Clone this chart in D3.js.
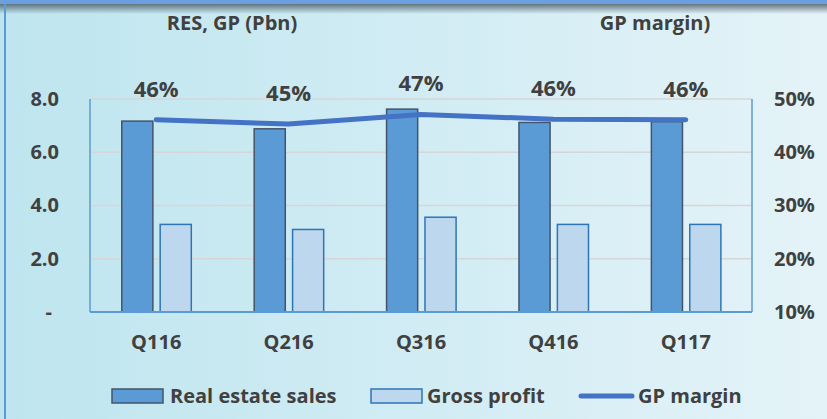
<!DOCTYPE html>
<html>
<head>
<meta charset="utf-8">
<script src="https://cdn.jsdelivr.net/npm/d3@7"></script>
<style>
  html, body { margin: 0; padding: 0; }
  body { width: 827px; height: 419px; overflow: hidden; }
  text { font-family: "Open Sans", sans-serif; font-weight: bold; fill: #404040; }
</style>
</head>
<body>
<div class="vis-chart"></div>
<script>
const quarters = ["Q116", "Q216", "Q316", "Q416", "Q117"];
const realEstateSales = [7.17, 6.88, 7.62, 7.12, 7.15];
const grossProfit = [3.29, 3.10, 3.56, 3.29, 3.29];
const gpMargin = [46.1, 45.3, 47.1, 46.2, 46.1];
const marginLabels = ["46%", "45%", "47%", "46%", "46%"];
const leftTicks = [0, 2, 4, 6, 8];
const rightTicks = [10, 20, 30, 40, 50];

const W = 827, H = 419;
const margin = { top: 99, right: 75, bottom: 107, left: 90 };
const FONT = "'Open Sans', sans-serif";

const svg = d3.select(".vis-chart")
    .append("svg")
    .attr("width", W)
    .attr("height", H);

// background
const defs = svg.append("defs");
const bg = defs.append("linearGradient").attr("id", "bg")
    .attr("x1", "0%").attr("y1", "0%").attr("x2", "100%").attr("y2", "0%");
bg.append("stop").attr("offset", "0%").attr("stop-color", "#bee5ef");
bg.append("stop").attr("offset", "100%").attr("stop-color", "#e4f3f8");
const sh = defs.append("linearGradient").attr("id", "shadow")
    .attr("x1", "0%").attr("y1", "0%").attr("x2", "0%").attr("y2", "100%");
sh.append("stop").attr("offset", "0%").attr("stop-color", "#4d5f6a").attr("stop-opacity", 0.85);
sh.append("stop").attr("offset", "100%").attr("stop-color", "#4d5f6a").attr("stop-opacity", 0);

svg.append("rect").attr("width", W).attr("height", H).attr("fill", "url(#bg)");
svg.append("rect").attr("x", 0).attr("y", 4).attr("width", W).attr("height", 10).attr("fill", "url(#shadow)");
svg.append("rect").attr("x", 0).attr("y", 0).attr("width", W).attr("height", 4).attr("fill", "#6b9fdf");
svg.append("rect").attr("x", 4).attr("y", 4).attr("width", 2).attr("height", H).attr("fill", "#5b9bd5");

const x0 = d3.scaleBand()
    .domain(quarters)
    .range([margin.left, W - margin.right])
    .paddingInner(0).paddingOuter(0);
const x1 = d3.scaleBand()
    .domain(["res", "gp"])
    .range([x0.bandwidth() * 0.24, x0.bandwidth() * 0.765])
    .paddingInner(0.19).paddingOuter(0);
const y = d3.scaleLinear().domain([0, 8]).range([H - margin.bottom, margin.top]);
const y2 = d3.scaleLinear().domain([10, 50]).range([H - margin.bottom, margin.top]);

// gridlines
svg.append("g")
    .selectAll("line")
    .data(leftTicks.slice(1))
    .join("line")
    .attr("x1", margin.left).attr("x2", W - margin.right)
    .attr("y1", d => y(d)).attr("y2", d => y(d))
    .attr("stroke", "#d6d6d6").attr("stroke-width", 1.5);

// left axis
svg.append("g")
    .attr("transform", "translate(" + (margin.left - 28) + ",0)")
    .call(d3.axisLeft(y).tickValues(leftTicks).tickSize(0)
        .tickFormat(d => d === 0 ? "-" : d3.format(".1f")(d)))
    .call(g => g.select(".domain").remove())
    .selectAll("text")
    .attr("font-size", 20).attr("fill", "#404040")
    .attr("font-family", FONT).attr("font-weight", "bold")
    .attr("dx", d => d === 0 ? -7 : 0);

// right axis
svg.append("g")
    .attr("transform", "translate(" + (W - margin.right + 19) + ",0)")
    .call(d3.axisRight(y2).tickValues(rightTicks).tickSize(0).tickFormat(d => d + "%"))
    .call(g => g.select(".domain").remove())
    .selectAll("text")
    .attr("font-size", 20).attr("fill", "#404040")
    .attr("font-family", FONT).attr("font-weight", "bold");

// bars
const groups = svg.append("g")
    .selectAll("g")
    .data(quarters)
    .join("g")
    .attr("transform", d => "translate(" + x0(d) + ",0)");

groups.append("rect")
    .attr("x", x1("res"))
    .attr("y", (d, i) => y(realEstateSales[i]))
    .attr("width", x1.bandwidth())
    .attr("height", (d, i) => y(0) - y(realEstateSales[i]))
    .attr("fill", "#5b9bd5")
    .attr("stroke", "#44546a").attr("stroke-width", 1.5);

groups.append("rect")
    .attr("x", x1("gp"))
    .attr("y", (d, i) => y(grossProfit[i]))
    .attr("width", x1.bandwidth())
    .attr("height", (d, i) => y(0) - y(grossProfit[i]))
    .attr("fill", "#bdd7ee")
    .attr("stroke", "#2e75b6").attr("stroke-width", 1.5);

// plot frame
svg.append("line")
    .attr("x1", margin.left).attr("x2", margin.left)
    .attr("y1", margin.top).attr("y2", y(0))
    .attr("stroke", "#5b9bd5").attr("stroke-width", 1.5);
svg.append("line")
    .attr("x1", W - margin.right).attr("x2", W - margin.right)
    .attr("y1", margin.top).attr("y2", y(0))
    .attr("stroke", "#5b9bd5").attr("stroke-width", 1.5);
svg.append("line")
    .attr("x1", margin.left).attr("x2", W - margin.right)
    .attr("y1", y(0)).attr("y2", y(0))
    .attr("stroke", "#5b9bd5").attr("stroke-width", 2);

// x axis labels
svg.append("g")
    .attr("transform", "translate(0," + (y(0) + 20) + ")")
    .call(d3.axisBottom(x0).tickSize(0))
    .call(g => g.select(".domain").remove())
    .selectAll("text")
    .attr("font-size", 20).attr("fill", "#404040")
    .attr("font-family", FONT).attr("font-weight", "bold");

// GP margin line
const cx = (d) => x0(d) + x0.bandwidth() / 2;
svg.append("path")
    .datum(quarters)
    .attr("fill", "none")
    .attr("stroke", "#4472c4")
    .attr("stroke-width", 5)
    .attr("stroke-linecap", "round")
    .attr("d", d3.line()
        .x(d => cx(d))
        .y((d, i) => y2(gpMargin[i])));

svg.append("g")
    .selectAll("text")
    .data(quarters)
    .join("text")
    .attr("x", d => cx(d))
    .attr("y", (d, i) => y2(gpMargin[i]) - 23)
    .attr("text-anchor", "middle")
    .attr("font-family", "'Liberation Sans Narrow', sans-serif")
    .attr("font-size", 22)
    .text((d, i) => marginLabels[i]);

// titles
svg.append("text").attr("x", 232).attr("y", 30).attr("text-anchor", "middle")
    .attr("font-size", 20).text("RES, GP (Pbn)");
svg.append("text").attr("x", 655).attr("y", 30).attr("text-anchor", "middle")
    .attr("font-size", 20).text("GP margin)");

// legend
const leg = svg.append("g");
leg.append("rect").attr("x", 112).attr("y", 389).attr("width", 51).attr("height", 14)
    .attr("fill", "#5b9bd5").attr("stroke", "#44546a").attr("stroke-width", 1.5);
leg.append("text").attr("x", 170).attr("y", 403).attr("font-size", 20).text("Real estate sales");
leg.append("rect").attr("x", 371).attr("y", 389).attr("width", 51).attr("height", 14)
    .attr("fill", "#bdd7ee").attr("stroke", "#2e75b6").attr("stroke-width", 1.5);
leg.append("text").attr("x", 427).attr("y", 403).attr("font-size", 20).text("Gross profit");
leg.append("line").attr("x1", 581).attr("x2", 632).attr("y1", 396).attr("y2", 396)
    .attr("stroke", "#4472c4").attr("stroke-width", 5).attr("stroke-linecap", "round");
leg.append("text").attr("x", 638).attr("y", 403).attr("font-size", 20).text("GP margin");
</script>
</body>
</html>
